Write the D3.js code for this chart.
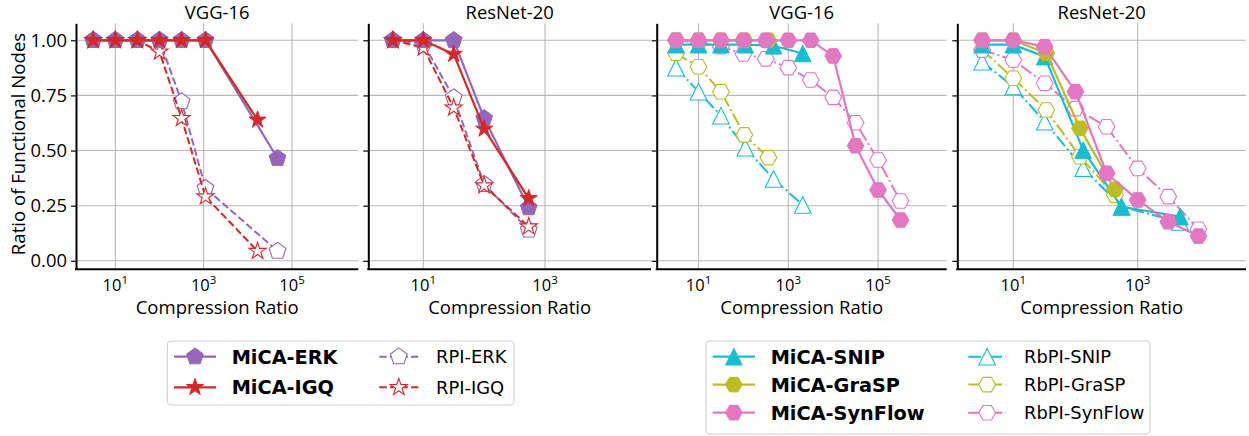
<!DOCTYPE html>
<html><head><meta charset="utf-8">
<script src="https://cdn.jsdelivr.net/npm/d3@7/dist/d3.min.js"></script>
<style>body{margin:0;background:#fff;}svg{display:block;}</style>
</head><body>
<svg id="chart" width="1249" height="436"></svg>
<script>
// ---------------- DATA ----------------
const yTicks = [0, 0.25, 0.5, 0.75, 1.0];
const yTickLabels = ["0.00", "0.25", "0.50", "0.75", "1.00"];
const xTicksWide = [10, 1000, 100000];
const xTicksNarrow = [10, 1000];
const panelTitles = ["VGG-16", "ResNet-20", "VGG-16", "ResNet-20"];
const xLabel = "Compression Ratio";
const yLabel = "Ratio of Functional Nodes";

// Left figure, VGG-16
const erkVggX = [3.16, 10, 31.6, 100, 316, 1100, 47000];
const igqVggX = [3.16, 10, 31.6, 100, 316, 1100, 16600];
const micaErkVgg = [1, 1, 1, 1, 1, 1, 0.465];
const micaIgqVgg = [1, 1, 1, 1, 1, 1, 0.639];
const rpiErkVgg = [1, 1, 1, 1, 0.722, 0.329, 0.044];
const rpiIgqVgg = [1, 1, 1, 0.948, 0.646, 0.291, 0.044];

// Left figure, ResNet-20
const ratioResLeft = [3.16, 10, 31.6, 100, 540];
const micaErkRes = [1, 1, 1, 0.646, 0.241];
const micaIgqRes = [1, 1, 0.937, 0.598, 0.283];
const rpiErkRes = [1, 0.985, 0.74, 0.347, 0.14];
const rpiIgqRes = [1, 0.966, 0.694, 0.341, 0.155];

// Right figure, VGG-16
const snipVggX = [3.16, 10, 31.6, 110, 470, 2100];
const graspVggX = [3.16, 10, 31.6, 105, 360];
const synVggX = [3.16, 10, 31.6, 100, 316, 1000, 3160, 10000, 31600, 100000, 316000];
const micaSnipVgg = [0.98, 0.98, 0.98, 0.98, 0.975, 0.94];
const rbpiSnipVgg = [0.876, 0.767, 0.658, 0.513, 0.371, 0.253];
const micaGraspVgg = [1, 1, 1, 1, 1];
const rbpiGraspVgg = [0.941, 0.88, 0.767, 0.571, 0.468];
const micaSynVgg = [1, 1, 1, 1, 1, 1, 1, 0.929, 0.522, 0.321, 0.185];
const rbpiSynVgg = [1, 0.99, 0.971, 0.938, 0.916, 0.876, 0.82, 0.741, 0.626, 0.457, 0.271];

// Right figure, ResNet-20
const snipResX = [3.16, 10, 32, 133, 550, 4800];
const graspResX = [3.16, 10, 34, 118, 430];
const synResX = [3.16, 10, 32, 100, 316, 1000, 3100, 9500];
const micaSnipRes = [0.98, 0.98, 0.926, 0.502, 0.245, 0.2];
const rbpiSnipRes = [0.903, 0.79, 0.631, 0.42, 0.245, 0.176];
const micaGraspRes = [1, 1, 0.941, 0.601, 0.324];
const rbpiGraspRes = [0.956, 0.828, 0.684, 0.472, 0.298];
const micaSynRes = [1, 1, 0.971, 0.767, 0.397, 0.276, 0.177, 0.112];
const rbpiSynRes = [0.956, 0.911, 0.805, 0.69, 0.608, 0.419, 0.291, 0.143];

// ---------------- STYLE ----------------
const C = {purple: "#9467bd", red: "#d62728", cyan: "#17becf", olive: "#bcbd22", pink: "#e377c2"};
const AX_FONT = "'Open Sans', sans-serif";
const LG_FONT = "'DejaVu Sans', sans-serif";
const DASH = "7.4,3.2";
const DASHDOT = "12.8,3.2,2,3.2";

const sty = {
  micaErk: {name: "MiCA-ERK", color: C.purple, marker: "pentagon", filled: true, dash: null},
  micaIgq: {name: "MiCA-IGQ", color: C.red, marker: "star", filled: true, dash: null},
  rpiErk: {name: "RPI-ERK", color: C.purple, marker: "pentagon", filled: false, dash: DASH},
  rpiIgq: {name: "RPI-IGQ", color: C.red, marker: "star", filled: false, dash: DASH},
  micaSnip: {name: "MiCA-SNIP", color: C.cyan, marker: "triangle", filled: true, dash: null},
  micaGrasp: {name: "MiCA-GraSP", color: C.olive, marker: "hexagon", filled: true, dash: null},
  micaSyn: {name: "MiCA-SynFlow", color: C.pink, marker: "hexagon", filled: true, dash: null},
  rbpiSnip: {name: "RbPI-SNIP", color: C.cyan, marker: "triangle", filled: false, dash: DASHDOT},
  rbpiGrasp: {name: "RbPI-GraSP", color: C.olive, marker: "hexagon", filled: false, dash: DASHDOT},
  rbpiSyn: {name: "RbPI-SynFlow", color: C.pink, marker: "hexagon", filled: false, dash: DASHDOT}
};

const TOP = 23.3, BOTTOM = 269.3;
const panels = [
  {x0: 76, x1: 358.3, lo: 0.110, hi: 6.50, ticks: xTicksWide, labels: true,
   series: [["rpiErk", erkVggX, rpiErkVgg], ["rpiIgq", igqVggX, rpiIgqVgg],
            ["micaErk", erkVggX, micaErkVgg], ["micaIgq", igqVggX, micaIgqVgg]]},
  {x0: 368.3, x1: 651, lo: 0.096, hi: 4.742, ticks: xTicksNarrow, labels: false,
   series: [["rpiErk", ratioResLeft, rpiErkRes], ["rpiIgq", ratioResLeft, rpiIgqRes],
            ["micaErk", ratioResLeft, micaErkRes], ["micaIgq", ratioResLeft, micaIgqRes]]},
  {x0: 656.7, x1: 946.7, lo: 0.069, hi: 6.528, ticks: xTicksWide, labels: false,
   series: [["rbpiSnip", snipVggX, rbpiSnipVgg], ["rbpiGrasp", graspVggX, rbpiGraspVgg], ["rbpiSyn", synVggX, rbpiSynVgg],
            ["micaSnip", snipVggX, micaSnipVgg], ["micaGrasp", graspVggX, micaGraspVgg], ["micaSyn", synVggX, micaSynVgg]]},
  {x0: 957.3, x1: 1246, lo: 0.10, hi: 4.741, ticks: xTicksNarrow, labels: false,
   series: [["rbpiSnip", snipResX, rbpiSnipRes], ["rbpiGrasp", graspResX, rbpiGraspRes], ["rbpiSyn", synResX, rbpiSynRes],
            ["micaSnip", snipResX, micaSnipRes], ["micaGrasp", graspResX, micaGraspRes], ["micaSyn", synResX, micaSynRes]]}
];

// ---------------- MARKERS ----------------
function poly(n, r, startDeg) {
  const pts = d3.range(n).map(i => {
    const a = (startDeg + i * 360 / n) * Math.PI / 180;
    return [r * Math.cos(a), r * Math.sin(a)];
  });
  return "M" + pts.map(p => p[0].toFixed(2) + "," + p[1].toFixed(2)).join("L") + "Z";
}
function starPath(r) {
  const ri = r * 0.381966;
  const pts = d3.range(10).map(i => {
    const a = (-90 + i * 36) * Math.PI / 180;
    const rr = i % 2 === 0 ? r : ri;
    return [rr * Math.cos(a), rr * Math.sin(a)];
  });
  return "M" + pts.map(p => p[0].toFixed(2) + "," + p[1].toFixed(2)).join("L") + "Z";
}
const markerPath = {
  pentagon: () => poly(5, 8.8, -90),
  star: () => starPath(9.0),
  hexagon: () => poly(6, 8.4, 0),
  triangle: () => { const r = 8.3; return `M0,${-r}L${r},${r}L${-r},${r}Z`; }
};

function drawMarker(g, s, x, y) {
  g.append("path").attr("d", markerPath[s.marker]())
    .attr("transform", `translate(${x},${y})`)
    .attr("fill", s.filled ? s.color : "#fff")
    .attr("stroke", s.color)
    .attr("stroke-width", s.filled ? 1 : 1.1)
    .attr("stroke-linejoin", "miter");
}

// ---------------- DRAW ----------------
const svg = d3.select("#chart");
const y = d3.scaleLinear().domain([-0.0385, 1.077]).range([BOTTOM, TOP]);

panels.forEach((p, pi) => {
  const x = d3.scaleLog().domain([10 ** p.lo, 10 ** p.hi]).range([p.x0, p.x1]);
  const g = svg.append("g");

  // grid
  g.selectAll(".hg").data(yTicks).enter().append("line")
    .attr("x1", p.x0).attr("x2", p.x1).attr("y1", d => y(d)).attr("y2", d => y(d))
    .attr("stroke", "#b9b9b9").attr("stroke-width", 1.1);
  g.selectAll(".vg").data(p.ticks).enter().append("line")
    .attr("x1", d => x(d)).attr("x2", d => x(d)).attr("y1", TOP).attr("y2", BOTTOM)
    .attr("stroke", "#b9b9b9").attr("stroke-width", 1.1);

  // y axis
  const yAxis = d3.axisLeft(y).tickValues(yTicks).tickSize(5).tickSizeOuter(0).tickPadding(4)
    .tickFormat((d, i) => p.labels ? yTickLabels[i] : "");
  const ya = g.append("g").attr("transform", `translate(${p.x0},0)`).call(yAxis);
  ya.select(".domain").attr("stroke", "#000").attr("stroke-width", 2);
  ya.selectAll(".tick line").attr("stroke", "#000").attr("stroke-width", 1.2);
  ya.selectAll(".tick text").attr("font-family", AX_FONT).attr("font-size", 18.4).attr("fill", "#000");

  // bottom spine
  g.append("line").attr("x1", p.x0 - 1).attr("x2", p.x1).attr("y1", BOTTOM).attr("y2", BOTTOM)
    .attr("stroke", "#000").attr("stroke-width", 2);

  // x tick labels
  p.ticks.forEach(t => {
    const txt = g.append("text").attr("x", x(t)).attr("y", 290.7)
      .attr("text-anchor", "middle").attr("font-family", AX_FONT).attr("font-size", 16.5).attr("fill", "#000");
    txt.append("tspan").text("10");
    txt.append("tspan").attr("font-size", 11.5).attr("dy", -6.5).text(String(Math.round(Math.log10(t))));
  });

  // x label
  g.append("text").attr("x", (p.x0 + p.x1) / 2).attr("y", 314.3).attr("text-anchor", "middle")
    .attr("font-family", AX_FONT).attr("font-size", 18.5).attr("fill", "#000").text(xLabel);

  // title
  g.append("text").attr("x", (p.x0 + p.x1) / 2).attr("y", 19.3).attr("text-anchor", "middle")
    .attr("font-family", AX_FONT).attr("font-size", 18.4).attr("fill", "#000").text(panelTitles[pi]);

  // series
  p.series.forEach(([key, xs, ys]) => {
    const s = sty[key];
    const pts = xs.map((v, i) => [x(v), y(ys[i])]);
    const line = d3.line().x(d => d[0]).y(d => d[1]);
    g.append("path").attr("d", line(pts)).attr("fill", "none")
      .attr("stroke", s.color).attr("stroke-width", s.filled ? 2.2 : 2)
      .attr("stroke-dasharray", s.dash).attr("stroke-linejoin", "round");
    pts.forEach(pt => drawMarker(g, s, pt[0], pt[1]));
  });
});

// y label
svg.append("text").attr("transform", "translate(24.5,144) rotate(-90)").attr("text-anchor", "middle")
  .attr("font-family", AX_FONT).attr("font-size", 18.6).attr("fill", "#000").text(yLabel);

// ---------------- LEGENDS ----------------
const legends = [
  {box: [167.3, 341, 514, 405], rows: [356.7, 387.3],
   cols: [{lx: [174, 216], tx: 231.7, keys: ["micaErk", "micaIgq"]},
          {lx: [379.3, 418.3], tx: 436, keys: ["rpiErk", "rpiIgq"]}]},
  {box: [706, 341, 1150, 434], rows: [356.7, 384.6, 412.7],
   cols: [{lx: [712.7, 755], tx: 770.7, keys: ["micaSnip", "micaGrasp", "micaSyn"]},
          {lx: [968.3, 1006], tx: 1024, keys: ["rbpiSnip", "rbpiGrasp", "rbpiSyn"]}]}
];
legends.forEach(L => {
  const g = svg.append("g");
  g.append("rect").attr("x", L.box[0]).attr("y", L.box[1])
    .attr("width", L.box[2] - L.box[0]).attr("height", L.box[3] - L.box[1])
    .attr("rx", 4).attr("fill", "#fff").attr("fill-opacity", 0.8)
    .attr("stroke", "#d0d0d0").attr("stroke-width", 1.1);
  L.cols.forEach(c => {
    c.keys.forEach((k, i) => {
      const s = sty[k];
      const ry = L.rows[i];
      g.append("line").attr("x1", c.lx[0]).attr("x2", c.lx[1]).attr("y1", ry).attr("y2", ry)
        .attr("stroke", s.color).attr("stroke-width", s.filled ? 2.2 : 2)
        .attr("stroke-dasharray", s.dash);
      drawMarker(g, s, (c.lx[0] + c.lx[1]) / 2, ry);
      const fs = s.filled ? 19.3 : 17.9;
      g.append("text").attr("x", c.tx).attr("y", ry + 0.365 * fs)
        .attr("font-family", LG_FONT).attr("font-size", fs)
        .attr("font-weight", s.filled ? "bold" : "normal").attr("fill", "#000").text(s.name);
    });
  });
});
</script>
</body></html>
